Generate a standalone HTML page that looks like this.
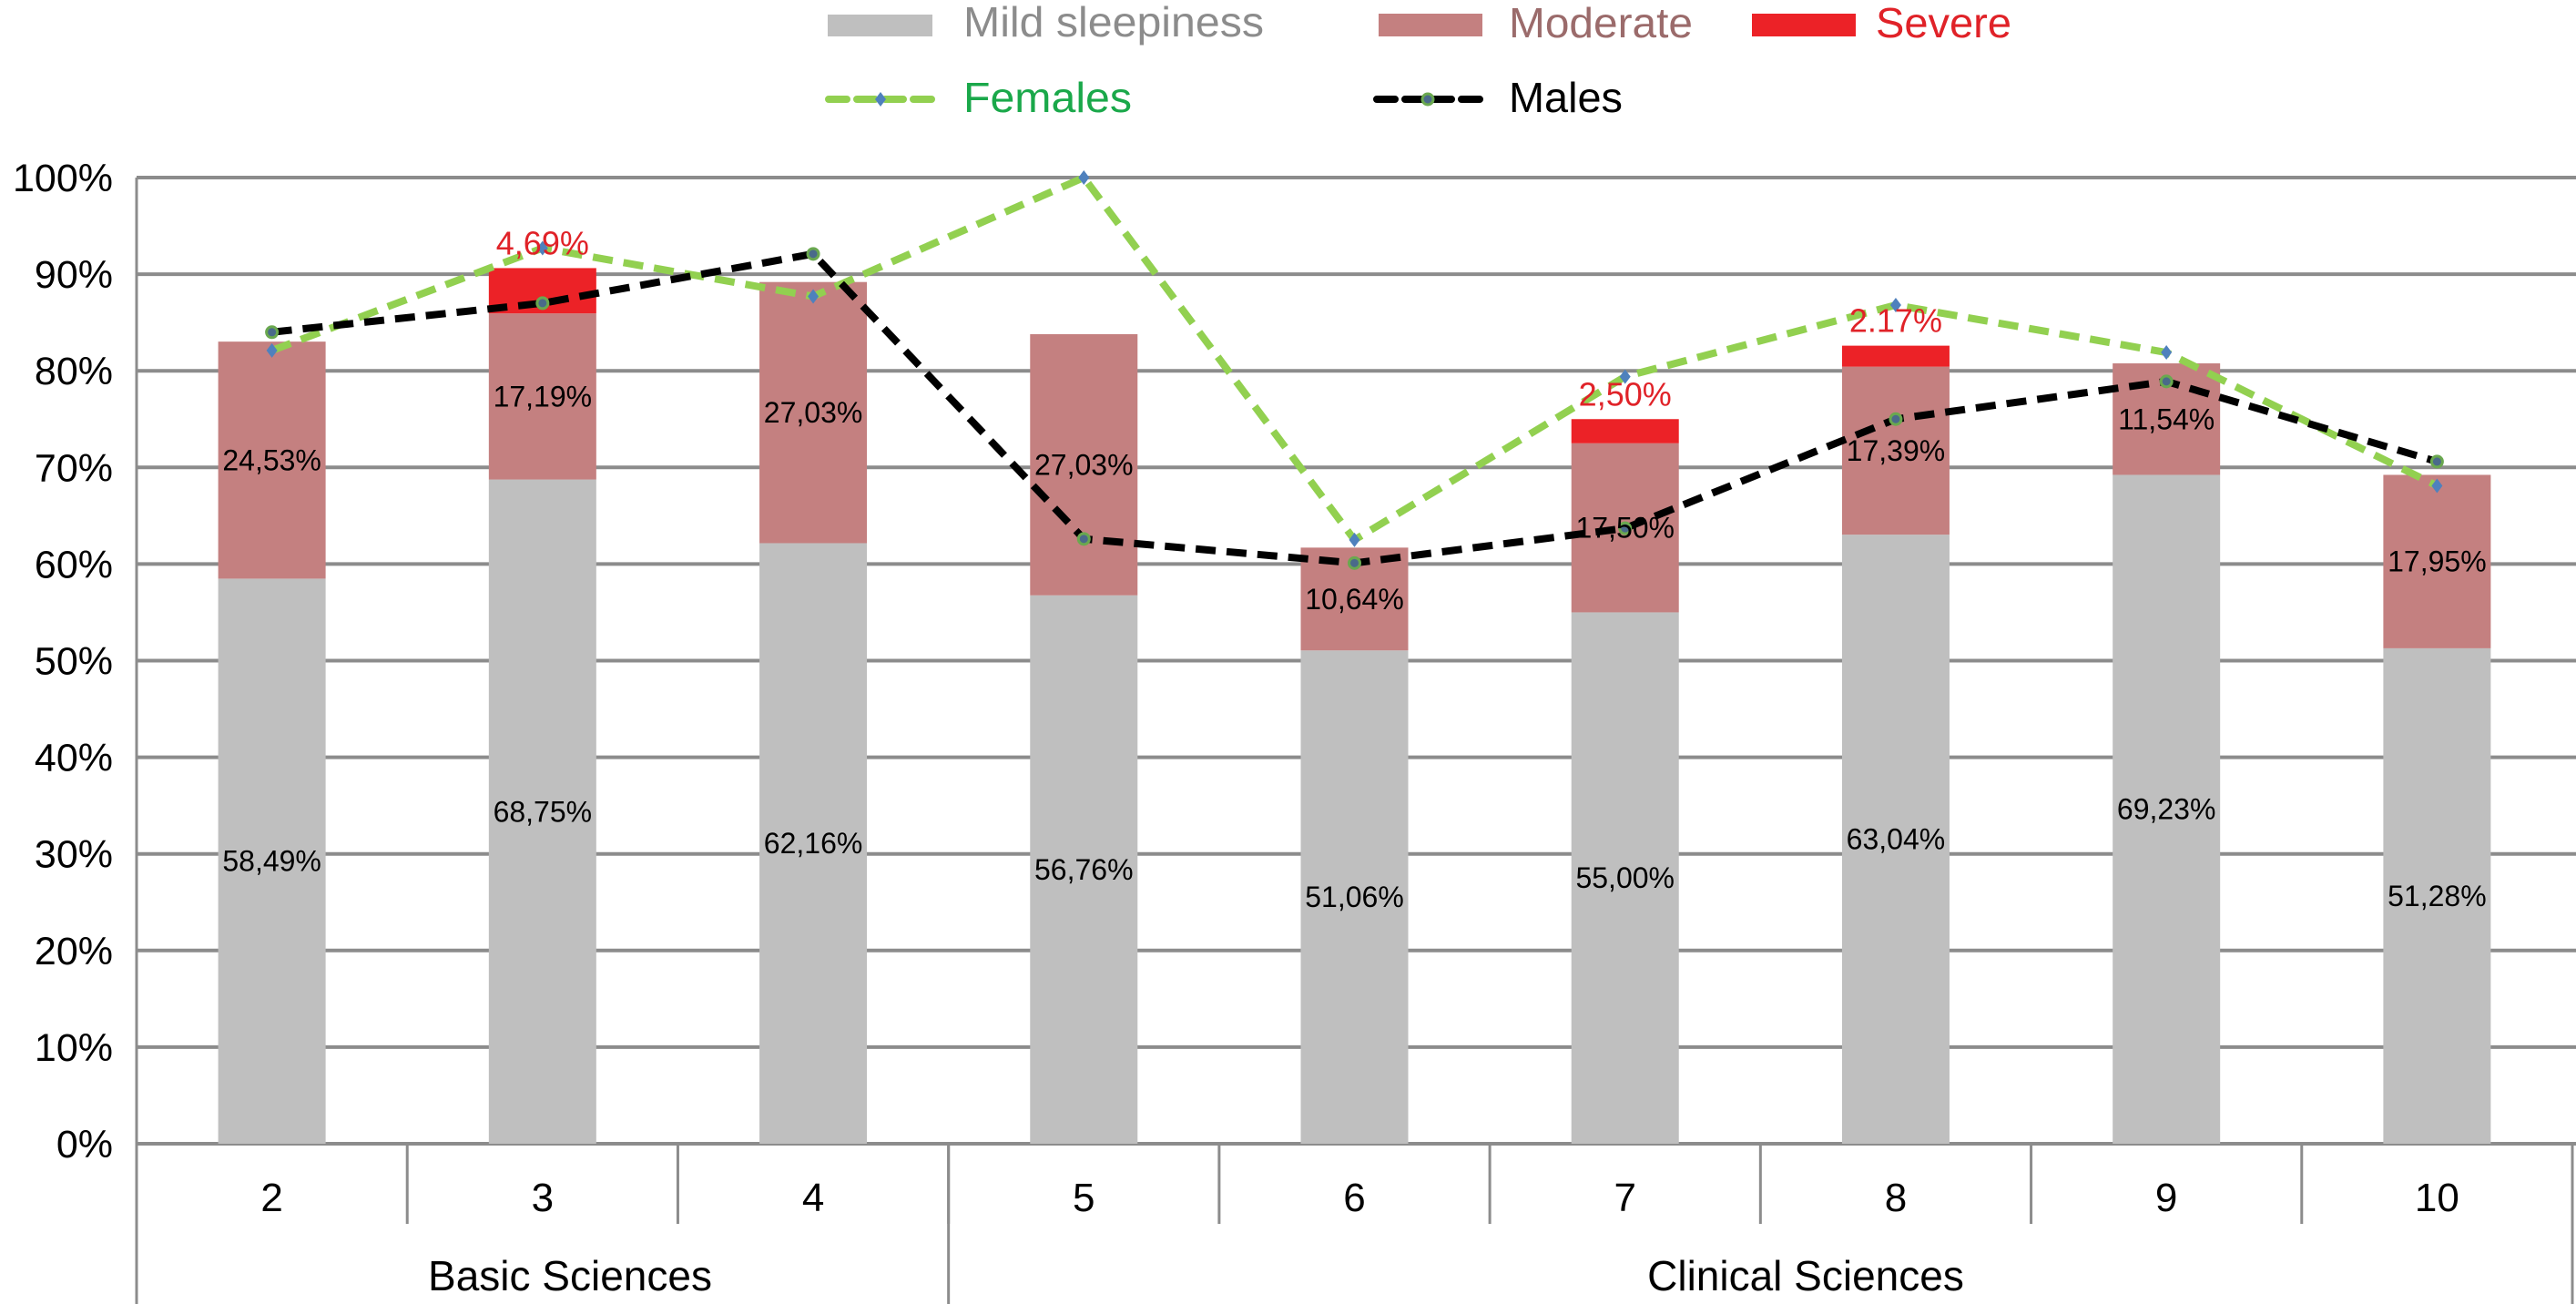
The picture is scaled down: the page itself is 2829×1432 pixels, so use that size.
<!DOCTYPE html>
<html><head><meta charset="utf-8"><style>
html,body{margin:0;padding:0;background:#fff;}
svg{display:block;font-family:"Liberation Sans",sans-serif;}
</style></head><body>
<svg id="chart" width="2829" height="1432" viewBox="0 0 2829 1432">
<g id="grid"></g>
<g id="bars"></g>
<g id="lines"></g>
<g id="labels"></g>
<g id="axes"></g>
<g id="legend">
  <rect x="909" y="16" width="115" height="24" fill="#bfbfbf"/>
  <text x="1058" y="40" font-size="46" fill="#8c8c8c" textLength="330" lengthAdjust="spacingAndGlyphs">Mild sleepiness</text>
  <rect x="1514" y="15" width="114" height="25" fill="#c48080"/>
  <text x="1657" y="41" font-size="46" fill="#9b6b6b" textLength="202" lengthAdjust="spacingAndGlyphs">Moderate</text>
  <rect x="1924" y="15" width="114" height="25" fill="#ec2227"/>
  <text x="2060" y="41" font-size="46" fill="#e02228" textLength="149" lengthAdjust="spacingAndGlyphs">Severe</text>
  <line x1="910" y1="109" x2="1027" y2="109" stroke="#92d050" stroke-width="8" stroke-dasharray="20,11" stroke-linecap="round"/>
  <path d="M967 101 L973 109 L967 117 L961 109 Z" fill="#4f81bd"/>
  <text x="1058" y="123" font-size="46" fill="#1aa84a" textLength="185" lengthAdjust="spacingAndGlyphs">Females</text>
  <line x1="1512" y1="109" x2="1630" y2="109" stroke="#000" stroke-width="8" stroke-dasharray="20,11" stroke-linecap="round"/>
  <circle cx="1568" cy="109" r="6" fill="#4a6a8a" stroke="#6aa84f" stroke-width="3"/>
  <text x="1657" y="123" font-size="46" fill="#000" textLength="125" lengthAdjust="spacingAndGlyphs">Males</text>
</g>
</svg>
<script>
const categories = ["2","3","4","5","6","7","8","9","10"];
const mild = [58.49,68.75,62.16,56.76,51.06,55.00,63.04,69.23,51.28];
const moderate = [24.53,17.19,27.03,27.03,10.64,17.50,17.39,11.54,17.95];
const severe = [0,4.69,0,0,0,2.50,2.17,0,0];
const mildLabels = ["58,49%","68,75%","62,16%","56,76%","51,06%","55,00%","63,04%","69,23%","51,28%"];
const moderateLabels = ["24,53%","17,19%","27,03%","27,03%","10,64%","17,50%","17,39%","11,54%","17,95%"];
const severeLabels = ["","4,69%","","","","2,50%","2.17%","",""];
const females = [82.1,92.7,87.7,100,62.5,79.4,86.8,81.9,68.1];
const males = [84.0,87.0,92.1,62.6,60.1,63.7,75.0,78.9,70.6];
const yTicks = [0,10,20,30,40,50,60,70,80,90,100];
const yTickLabels = ["0%","10%","20%","30%","40%","50%","60%","70%","80%","90%","100%"];
const groups = ["Basic Sciences","Clinical Sciences"];
const groupSizes = [3,6];

const NS="http://www.w3.org/2000/svg";
const X0=150, X1=2825, Y0=1256, Y100=195;
const cw=(X1-X0)/categories.length, bw=118;
const y=v=>Y0-(v/100)*(Y0-Y100);
const xc=i=>X0+cw*(i+0.5);
function mk(tag,attrs,parent,txt){const e=document.createElementNS(NS,tag);for(const k in attrs)e.setAttribute(k,attrs[k]);if(txt!==undefined)e.textContent=txt;parent.appendChild(e);return e;}
const grid=document.getElementById('grid'),bars=document.getElementById('bars'),lines=document.getElementById('lines'),labels=document.getElementById('labels'),axes=document.getElementById('axes');

yTicks.forEach((t,i)=>{
  const l=mk('line',{x1:X0,x2:2829,y1:y(t),y2:y(t),stroke:'#8c8c8c','stroke-width':4},grid);
  
  
  const tx=mk('text',{x:124,y:y(t)+15,'font-size':43,'text-anchor':'end',fill:'#000'},axes,yTickLabels[i]);
  
  
});
const la=mk('line',{x1:X0,x2:X0,y1:Y100,y2:1432,stroke:'#8c8c8c','stroke-width':3},axes);


const ra=mk('line',{x1:X1,x2:X1,y1:Y0,y2:1432,stroke:'#8c8c8c','stroke-width':3},axes);



categories.forEach((c,i)=>{
  const x=xc(i)-bw/2;
  const r1=mk('rect',{x:x,y:y(mild[i]),width:bw,height:y(0)-y(mild[i]),fill:'#bfbfbf'},bars);
  
  
  const r2=mk('rect',{x:x,y:y(mild[i]+moderate[i]),width:bw,height:y(mild[i])-y(mild[i]+moderate[i]),fill:'#c48080'},bars);
  
  
  if(severe[i]>0){
    const top=mild[i]+moderate[i]+severe[i];
    const r3=mk('rect',{x:x,y:y(top),width:bw,height:y(mild[i]+moderate[i])-y(top),fill:'#ec2227'},bars);
    
    
    const s=mk('text',{x:xc(i),y:y(top)-15,'font-size':36,'text-anchor':'middle',fill:'#e02228'},labels,severeLabels[i]);
    
    
  }
  const t1=mk('text',{x:xc(i),y:y(mild[i]/2)+11,'font-size':32,'text-anchor':'middle',fill:'#000'},labels,mildLabels[i]);
  
  
  const t2=mk('text',{x:xc(i),y:y(mild[i]+moderate[i]/2)+11,'font-size':32,'text-anchor':'middle',fill:'#000'},labels,moderateLabels[i]);
  
  
  const cl=mk('text',{x:xc(i),y:1330,'font-size':44,'text-anchor':'middle',fill:'#000'},axes,c);
  
  
  if(i>0){
    const d=mk('line',{x1:X0+cw*i,x2:X0+cw*i,y1:Y0,y2:1344,stroke:'#8c8c8c','stroke-width':3},axes);
    
    
  }
});
let start=0;
const groupCenters=[626,1983];
groups.forEach((g,gi)=>{
  if(start>0){
    const d=mk('line',{x1:X0+cw*start,x2:X0+cw*start,y1:Y0,y2:1432,stroke:'#8c8c8c','stroke-width':3},axes);
    
    
  }
  const t=mk('text',{x:groupCenters[gi],y:1417,'font-size':46,'text-anchor':'middle',fill:'#000'},axes,g);
  
  
  start+=groupSizes[gi];
});

function series(vals,color,name,marker){
  const pts=vals.map((v,i)=>xc(i)+','+y(v)).join(' ');
  const p=mk('polyline',{points:pts,fill:'none',stroke:color,'stroke-width':8,'stroke-dasharray':'22,12','stroke-linejoin':'round'},lines);
  
  
  vals.forEach((v,i)=>{
    let m;
    if(marker==='diamond') m=mk('path',{d:`M${xc(i)} ${y(v)-8} L${xc(i)+6} ${y(v)} L${xc(i)} ${y(v)+8} L${xc(i)-6} ${y(v)} Z`,fill:'#4f81bd'},lines);
    else m=mk('circle',{cx:xc(i),cy:y(v),r:6,fill:'#4a6a8a',stroke:'#6aa84f','stroke-width':3},lines);
    
    
  });
}
series(females,'#92d050','females','diamond');
series(males,'#000000','males','circle');
</script>
</body></html>
